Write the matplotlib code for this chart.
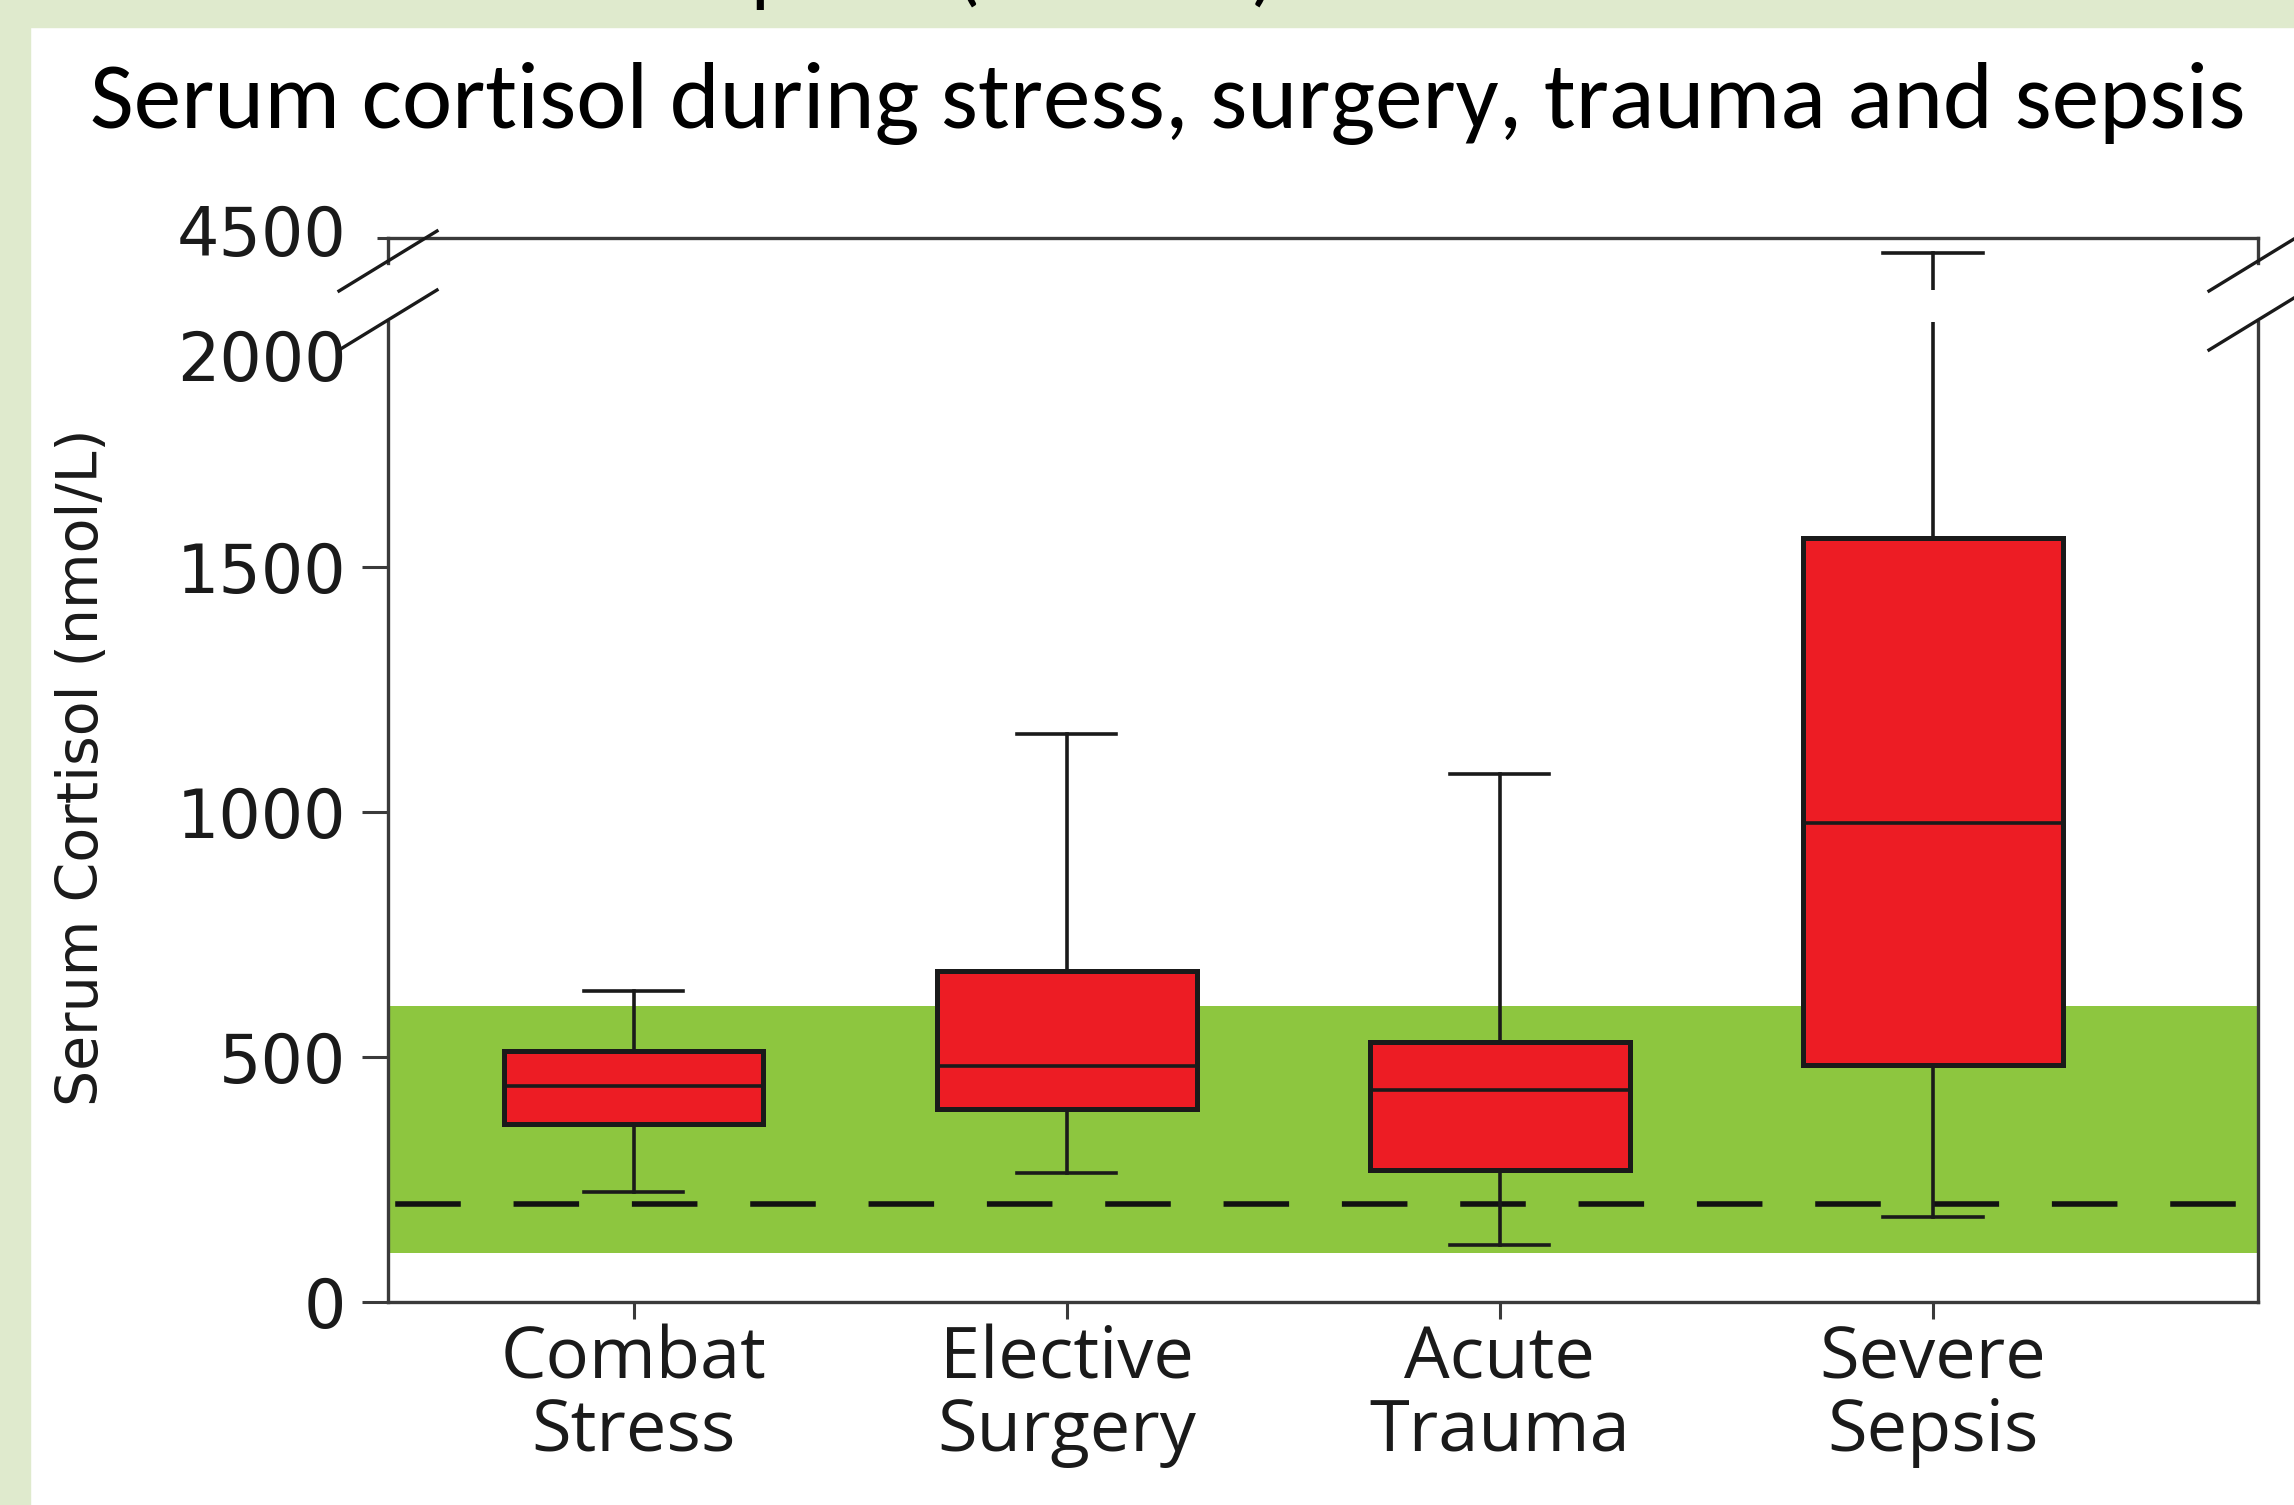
import matplotlib
matplotlib.use("Agg")
import matplotlib.pyplot as plt
from matplotlib import font_manager
from matplotlib.lines import Line2D
from matplotlib.patches import Rectangle
from matplotlib.transforms import blended_transform_factory, offset_copy, ScaledTranslation

# --- data (nmol/L) ---
categories = ['Combat\nStress', 'Elective\nSurgery', 'Acute\nTrauma', 'Severe\nSepsis']
whisker_low = [225, 264, 116, 174]
q1 = [364, 394, 270, 483]
median = [440, 482, 432, 977]
q3 = [513, 675, 530, 1560]
whisker_high = [635, 1160, 1078, 4470]

normal_range = (100, 605)   # green reference band
cutoff = 200                # dashed line
lower_ticks = [0, 500, 1000, 1500]
lower_limit = (0, 2000)
upper_limit = (4394, 4500)
upper_tick = 4500

RED = '#ED1C24'
GREEN = '#8DC63F'
BG = '#DFEACD'
INK = '#1A1A1A'
SPINE = '#3A3A3A'

# fonts
available = {f.name for f in font_manager.fontManager.ttflist}


def pick(*names):
    for n in names:
        if n in available:
            return n
    return 'DejaVu Sans'


title_font = pick('Carlito', 'Lato', 'Open Sans')
title_size = 68.5 if title_font == 'Carlito' else 59
cat_font = pick('Open Sans', 'Lato')
num_font = 'DejaVu Sans'
label_font = pick('Liberation Sans Narrow', 'DejaVu Sans')
label_size = 56 if label_font == 'Liberation Sans Narrow' else 41

W, H = 2294, 1505
fig = plt.figure(figsize=(W / 100, H / 100), dpi=100)
fig.patch.set_facecolor('white')


def fx(px):
    return px / W


def fy(py):
    return 1 - py / H


# slide background strips
fig.add_artist(Rectangle((0, fy(27)), 1, 1 - fy(27), transform=fig.transFigure,
                         color=BG, zorder=-5))
fig.add_artist(Rectangle((0, 0), fx(30), 1, transform=fig.transFigure,
                         color=BG, zorder=-5))
# bottoms of the cut-off slide heading above the crop
for ch, xpx in [('p', 772), ('(', 968), (')', 1263)]:
    fig.text(fx(xpx), fy(-4), ch, fontsize=60, family=title_font,
             ha='center', va='baseline', color='black')

ax = fig.add_axes([fx(388), fy(1302), fx(2258) - fx(388), fy(322) - fy(1302)])
ax_top = fig.add_axes([fx(388), fy(290), fx(2258) - fx(388), fy(238) - fy(290)])

positions = [1, 2, 3, 4]
stats = [dict(label=c, whislo=a, q1=b, med=m, q3=d, whishi=e)
         for c, a, b, m, d, e in zip(categories, whisker_low, q1, median, q3, whisker_high)]

for a in (ax, ax_top):
    a.bxp(stats, positions=positions, widths=0.6, capwidths=0.23,
          patch_artist=True, showfliers=False, manage_ticks=False,
          boxprops=dict(facecolor=RED, edgecolor=INK, linewidth=3.6),
          whiskerprops=dict(color=INK, linewidth=2.6),
          capprops=dict(color=INK, linewidth=2.6),
          medianprops=dict(color=INK, linewidth=2.6),
          zorder=3)
    a.set_xlim(0.433, 4.751)
    for s in a.spines.values():
        s.set_color(SPINE)
        s.set_linewidth(2.4)

ax.axhspan(*normal_range, color=GREEN, lw=0, zorder=0.5)
ax.axhline(cutoff, color='#111111', lw=4.0, linestyle=(20, (11.8, 9.5)), zorder=1)

# lower panel
ax.set_ylim(*lower_limit)
ax.spines['top'].set_visible(False)
ax.set_yticks(lower_ticks)
ax.set_xticks(positions, categories)
ax.tick_params(axis='y', length=19, width=2.2, color=SPINE, pad=11,
               labelsize=48, labelcolor=INK, labelfontfamily=num_font)
ax.tick_params(axis='x', length=12, width=2.2, color=SPINE, pad=4,
               labelsize=52, labelcolor=INK, labelfontfamily=cat_font)
for lbl in ax.get_xticklabels():
    lbl.set_linespacing(1.02)

trans = offset_copy(blended_transform_factory(ax.transAxes, ax.transData),
                    fig=fig, x=-41, y=0, units='dots')
ax.text(0, 1918, '2000', transform=trans, ha='right', va='center',
        fontsize=48, family=num_font, color=INK)

# upper panel
ax_top.set_ylim(*upper_limit)
ax_top.spines['bottom'].set_visible(False)
ax_top.spines['left'].set_bounds(4449, upper_limit[1])
ax_top.spines['right'].set_bounds(4449, upper_limit[1])
ax_top.set_yticks([upper_tick])
ax_top.tick_params(axis='y', length=8, width=2.2, color=SPINE, pad=22,
                   labelsize=48, labelcolor=INK, labelfontfamily=num_font)
ax_top.tick_params(axis='x', bottom=False, labelbottom=False)
for lbl in ax_top.get_yticklabels():
    lbl.set_transform(lbl.get_transform() + ScaledTranslation(0, 0.08, fig.dpi_scale_trans))


# break marks on both sides
def slash(xc, yc, dx=49, dy=30):
    fig.add_artist(Line2D([fx(xc - dx), fx(xc + dx)], [fy(yc + dy), fy(yc - dy)],
                          transform=fig.transFigure, color=INK, lw=2.4))


for xs in (388, 2258):
    slash(xs, 261)
    slash(xs, 320)

fig.text(fx(83), fy(767), 'Serum Cortisol (nmol/L)', rotation=90,
         ha='center', va='center', fontsize=label_size, family=label_font, color=INK)
fig.text(fx(1168), fy(128), 'Serum cortisol during stress, surgery, trauma and sepsis',
         ha='center', va='baseline', fontsize=title_size, family=title_font, color='black')

fig.savefig('out.png', dpi=100)
